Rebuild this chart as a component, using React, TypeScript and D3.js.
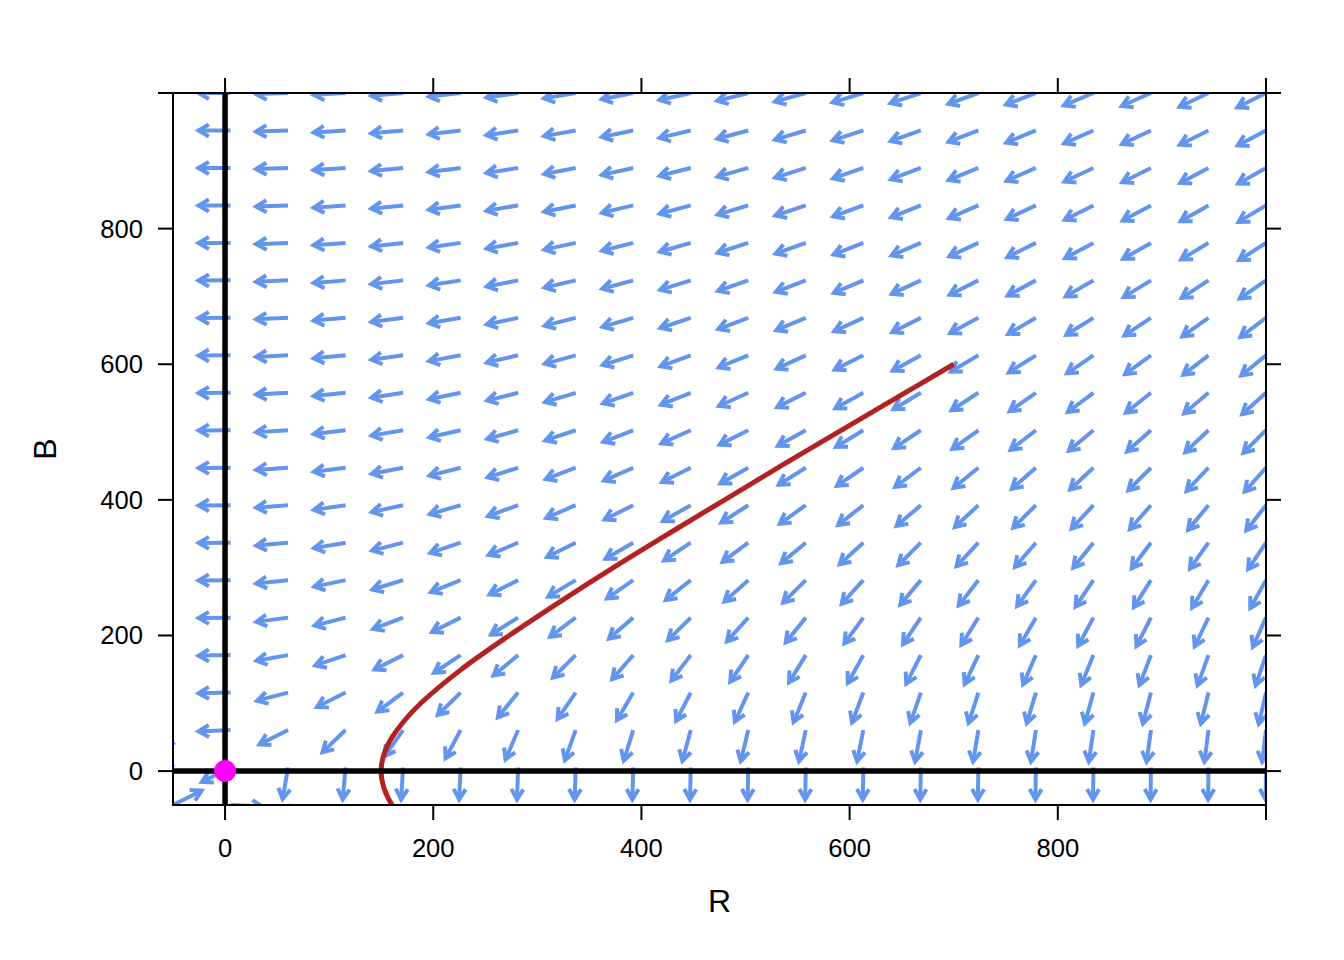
import React from "react";
import * as d3 from "d3";

// Grid of starting points for the direction field (R and B values)
const gridR = [-50, 5.26, 60.53, 115.79, 171.05, 226.32, 281.58, 336.84, 392.11, 447.37, 502.63, 557.89, 613.16, 668.42, 723.68, 778.95, 834.21, 889.47, 944.74, 1000];
const gridB = [-50, 5.26, 60.53, 115.79, 171.05, 226.32, 281.58, 336.84, 392.11, 447.37, 502.63, 557.89, 613.16, 668.42, 723.68, 778.95, 834.21, 889.47, 944.74, 1000];

// Lanchester square-law model: dR/dt = -blueEffect * B, dB/dt = -redEffect * R
const blueEffect = 1.3;
const redEffect = 1.0;

// Trajectory (R, B), starting at (700, 600)
const trajR = [700, 644.5, 589, 534, 480, 426, 373, 322, 273, 227, 188, 172.6, 160.5, 155.2, 152.7, 150.4, 150, 150.4, 152.7, 156.1, 160.5];
const trajB = [600, 550, 500, 450, 400, 350, 300, 250, 200, 150, 100, 75, 50, 35, 25, 10, 0, -10, -25, -38, -50];

// Equilibrium point
const eqR = [0];
const eqB = [0];

const xTicks = [0, 200, 400, 600, 800, 1000];
const yTicks = [0, 200, 400, 600, 800, 1000];
const xTickLabels = ["0", "200", "400", "600", "800", ""];
const yTickLabels = ["0", "200", "400", "600", "800", ""];

const W = 1344;
const H = 960;
const left = 173;
const right = 1266;
const top = 93;
const bottom = 805;

export default function App() {
  const x = d3.scaleLinear().domain([-50, 1000]).range([left, right]);
  const y = d3.scaleLinear().domain([-50, 1000]).range([bottom, top]);

  const L = 32;
  const headLen = 12;
  const headAng = Math.PI / 6;

  const arrows: { x0: number; y0: number; x1: number; y1: number; h: string }[] = [];
  gridR.forEach((r) => {
    gridB.forEach((b) => {
      const dR = -blueEffect * b;
      const dB = -redEffect * r;
      if (dR === 0 && dB === 0) return;
      const px = x(r + dR) - x(r);
      const py = y(b + dB) - y(b);
      const n = Math.hypot(px, py);
      const ux = px / n;
      const uy = py / n;
      const x0 = x(r);
      const y0 = y(b);
      const x1 = x0 + ux * L;
      const y1 = y0 + uy * L;
      const a = Math.atan2(uy, ux);
      const hx1 = x1 - headLen * Math.cos(a - headAng);
      const hy1 = y1 - headLen * Math.sin(a - headAng);
      const hx2 = x1 - headLen * Math.cos(a + headAng);
      const hy2 = y1 - headLen * Math.sin(a + headAng);
      arrows.push({ x0, y0, x1, y1, h: `M${hx1},${hy1}L${x1},${y1}L${hx2},${hy2}` });
    });
  });

  const traj = trajR.map((r, i) => [r, trajB[i]] as [number, number]);
  const line = d3
    .line<[number, number]>()
    .x((d) => x(d[0]))
    .y((d) => y(d[1]))
    .curve(d3.curveCatmullRom.alpha(0.5));

  const font = "Liberation Sans, Arial, sans-serif";
  const tickLen = 15;

  return (
    <svg width={W} height={H} style={{ position: "absolute", left: 0, top: 0, background: "#fff" }}>
      <defs>
        <clipPath id="plotclip">
          <rect x={left} y={top} width={right - left} height={bottom - top} />
        </clipPath>
      </defs>
      <g clipPath="url(#plotclip)">
        {arrows.map((a, i) => (
          <g key={i} stroke="#6495ED" strokeWidth={4} fill="none" strokeLinecap="butt">
            <line x1={a.x0} y1={a.y0} x2={a.x1} y2={a.y1} />
            <path d={a.h} strokeLinejoin="miter" />
          </g>
        ))}
        <path d={line(traj) || ""} stroke="#B22222" strokeWidth={5} fill="none" />
        <line x1={left} x2={right} y1={y(0)} y2={y(0)} stroke="#000" strokeWidth={5.5} />
        <line x1={x(0)} x2={x(0)} y1={top} y2={bottom} stroke="#000" strokeWidth={5.5} />
        {eqR.map((r, i) => (
          <circle key={i} cx={x(r)} cy={y(eqB[i])} r={11} fill="#FF00FF" />
        ))}
      </g>
      <rect x={left} y={top} width={right - left} height={bottom - top} fill="none" stroke="#000" strokeWidth={2} />
      {xTicks.map((t, i) => (
        <g key={"xt" + i}>
          <line x1={x(t)} x2={x(t)} y1={bottom} y2={bottom + tickLen} stroke="#000" strokeWidth={2} />
          <line x1={x(t)} x2={x(t)} y1={top} y2={top - tickLen} stroke="#000" strokeWidth={2} />
          <text x={x(t)} y={857} textAnchor="middle" fontFamily={font} fontSize={25.6} fill="#000">
            {xTickLabels[i]}
          </text>
        </g>
      ))}
      {yTicks.map((t, i) => (
        <g key={"yt" + i}>
          <line x1={left} x2={left - tickLen} y1={y(t)} y2={y(t)} stroke="#000" strokeWidth={2} />
          <line x1={right} x2={right + tickLen} y1={y(t)} y2={y(t)} stroke="#000" strokeWidth={2} />
          <text x={143} y={y(t) + 9} textAnchor="end" fontFamily={font} fontSize={25.6} fill="#000">
            {yTickLabels[i]}
          </text>
        </g>
      ))}
      <text x={(left + right) / 2} y={911.5} textAnchor="middle" fontFamily={font} fontSize={32} fill="#000">
        R
      </text>
      <text
        transform={`translate(56,${(top + bottom) / 2}) rotate(-90)`}
        textAnchor="middle"
        fontFamily={font}
        fontSize={32}
        fill="#000"
      >
        B
      </text>
    </svg>
  );
}
